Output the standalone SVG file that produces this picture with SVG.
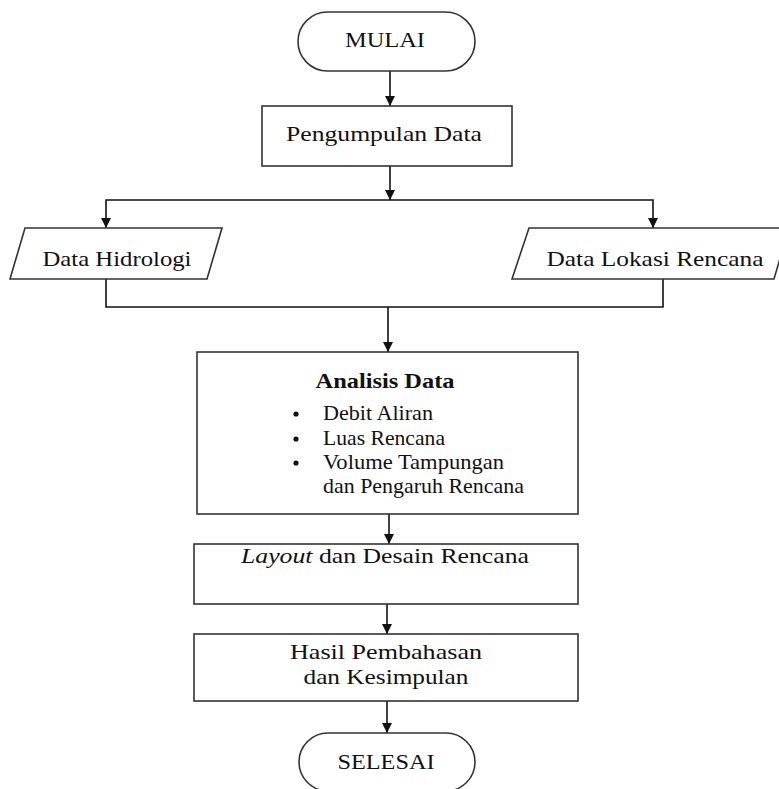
<svg xmlns="http://www.w3.org/2000/svg" width="779" height="789" viewBox="0 0 779 789">
<defs>
<marker id="ah" viewBox="0 0 10 10" refX="10" refY="5" markerWidth="10" markerHeight="10" markerUnits="userSpaceOnUse" orient="auto">
<path d="M0,0 L10,5 L0,10 Z" fill="#111"/>
</marker>
<style>
.s{fill:#fff;stroke:#333;stroke-width:1.6}
.c{fill:none;stroke:#111;stroke-width:1.6}
.t{font-family:"Liberation Serif","Times New Roman",serif;font-size:22px;fill:#111}
.m{text-anchor:middle}
.b{font-weight:bold}
</style>
</defs>
<rect width="779" height="789" fill="#fff"/>
<g id="connectors">
<path class="c" d="M390,71 V106" marker-end="url(#ah)"/>
<path class="c" d="M390,166 V200" marker-end="url(#ah)"/>
<path class="c" d="M390,200 H106 V228" marker-end="url(#ah)"/>
<path class="c" d="M390,200 H653 V228" marker-end="url(#ah)"/>
<path class="c" d="M106,279 V307 H663 V279"/>
<path class="c" d="M388,307 V352" marker-end="url(#ah)"/>
<path class="c" d="M389,514 V544" marker-end="url(#ah)"/>
<path class="c" d="M387,604 V634" marker-end="url(#ah)"/>
<path class="c" d="M387,701 V733" marker-end="url(#ah)"/>
</g>
<g id="mulai">
<rect class="s" x="298" y="12" width="177" height="59" rx="29.5"/>
<text class="t m" x="385" y="47" textLength="80" lengthAdjust="spacingAndGlyphs">MULAI</text>
</g>
<g id="pengumpulan">
<rect class="s" x="262" y="106" width="250" height="60"/>
<text class="t m" x="384" y="141" textLength="196" lengthAdjust="spacingAndGlyphs">Pengumpulan Data</text>
</g>
<g id="hidrologi">
<polygon class="s" points="25,228 222,228 207,279 10,279"/>
<text class="t m" x="117" y="266" textLength="149" lengthAdjust="spacingAndGlyphs">Data Hidrologi</text>
</g>
<g id="lokasi">
<polygon class="s" points="529,228 789,228 774,279 512,279"/>
<text class="t m" x="655" y="266" textLength="217" lengthAdjust="spacingAndGlyphs">Data Lokasi Rencana</text>
</g>
<g id="analisis">
<rect class="s" x="197" y="352" width="381" height="162"/>
<text class="t m b" x="385" y="388" textLength="139" lengthAdjust="spacingAndGlyphs">Analisis Data</text>
<circle cx="296" cy="414" r="2.6" fill="#111"/>
<circle cx="296" cy="439" r="2.6" fill="#111"/>
<circle cx="296" cy="463" r="2.6" fill="#111"/>
<text class="t" x="323" y="420" textLength="110" lengthAdjust="spacingAndGlyphs">Debit Aliran</text>
<text class="t" x="323" y="445" textLength="122" lengthAdjust="spacingAndGlyphs">Luas Rencana</text>
<text class="t" x="323" y="469" textLength="181" lengthAdjust="spacingAndGlyphs">Volume Tampungan</text>
<text class="t" x="323" y="493" textLength="201" lengthAdjust="spacingAndGlyphs">dan Pengaruh Rencana</text>
</g>
<g id="layout">
<rect class="s" x="194" y="544" width="384" height="60"/>
<text class="t m" x="385" y="563" textLength="288" lengthAdjust="spacingAndGlyphs"><tspan font-style="italic">Layout</tspan> dan Desain Rencana</text>
</g>
<g id="hasil">
<rect class="s" x="194" y="634" width="384" height="67"/>
<text class="t m" x="386" y="659" textLength="192" lengthAdjust="spacingAndGlyphs">Hasil Pembahasan</text>
<text class="t m" x="386" y="684" textLength="165" lengthAdjust="spacingAndGlyphs">dan Kesimpulan</text>
</g>
<g id="selesai">
<rect class="s" x="299" y="733" width="176" height="58" rx="29"/>
<text class="t m" x="386" y="769" textLength="97" lengthAdjust="spacingAndGlyphs">SELESAI</text>
</g>
</svg>
